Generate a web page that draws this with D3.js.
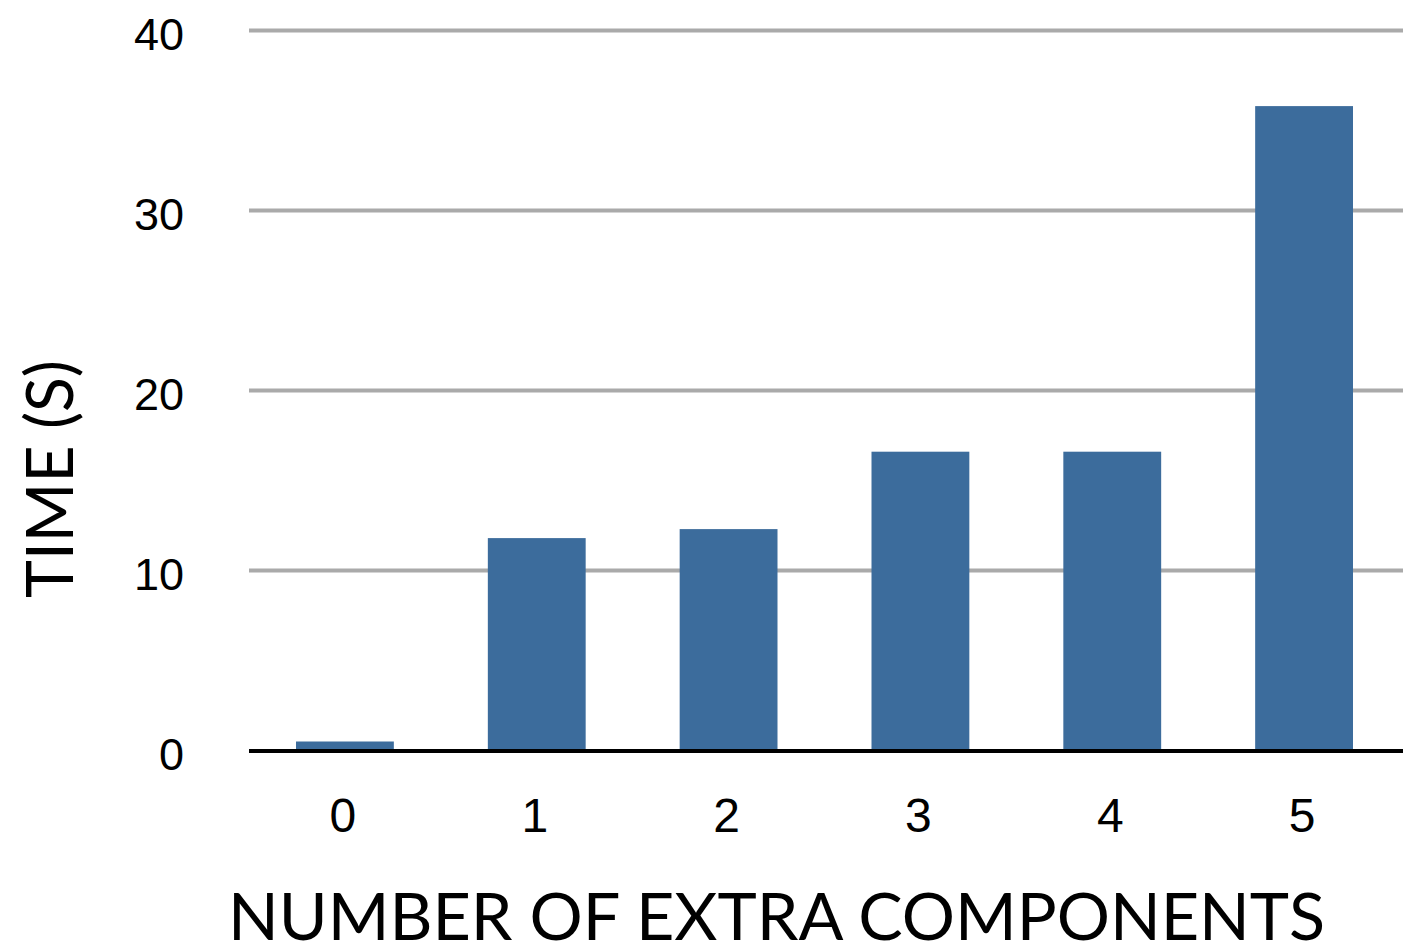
<!DOCTYPE html>
<html>
<head>
<meta charset="utf-8">
<script src="https://cdn.jsdelivr.net/npm/d3@7"></script>
<style>
  html, body { margin: 0; padding: 0; background: #fff; }
  svg { display: block; }
</style>
</head>
<body>
<svg id="chart" width="1403" height="943"></svg>
<script>
// Extra components added vs. time taken (seconds)
const categories = ["0", "1", "2", "3", "4", "5"];
const timeSeconds = [0.5, 11.8, 12.3, 16.6, 16.6, 35.8];
const yTicks = [0, 10, 20, 30, 40];

const svg = d3.select("#chart");
const W = 1403;

const x = d3.scaleBand()
  .domain(categories)
  .range([249, 1400])
  .paddingInner(0.49)
  .paddingOuter(0.245);

const y = d3.scaleLinear()
  .domain([0, 40])
  .range([750.5, 30.5]);

// horizontal gridlines
svg.append("g")
  .selectAll("line")
  .data(yTicks.filter(d => d !== 0))
  .join("line")
  .attr("x1", 249)
  .attr("x2", W)
  .attr("y1", d => y(d))
  .attr("y2", d => y(d))
  .attr("stroke", "#aaaaaa")
  .attr("stroke-width", 4);

// bars
svg.append("g")
  .selectAll("rect")
  .data(timeSeconds)
  .join("rect")
  .attr("x", (d, i) => x(categories[i]))
  .attr("width", x.bandwidth())
  .attr("y", d => y(d))
  .attr("height", d => y(0) - y(d))
  .attr("fill", "#3c6c9c");

// baseline
svg.append("line")
  .attr("x1", 249)
  .attr("x2", W)
  .attr("y1", y(0) + 0.5)
  .attr("y2", y(0) + 0.5)
  .attr("stroke", "#000")
  .attr("stroke-width", 4);

// y tick labels
svg.append("g")
  .selectAll("text")
  .data(yTicks)
  .join("text")
  .attr("x", 184)
  .attr("y", d => y(d) + 19)
  .attr("text-anchor", "end")
  .attr("font-family", "'Liberation Sans', Arial, sans-serif")
  .attr("font-size", 45)
  .attr("fill", "#000")
  .text(d => d);

// x tick labels
svg.append("g")
  .selectAll("text")
  .data(categories)
  .join("text")
  .attr("x", d => x(d) + x.bandwidth() / 2 - 2)
  .attr("y", 832)
  .attr("text-anchor", "middle")
  .attr("font-family", "'Liberation Sans', Arial, sans-serif")
  .attr("font-size", 48)
  .attr("fill", "#000")
  .text(d => d);

// axis titles
svg.append("text")
  .attr("x", 228)
  .attr("y", 940)
  .attr("font-family", "Lato, 'Open Sans', sans-serif")
  .attr("font-size", 66)
  .attr("textLength", 1097)
  .attr("lengthAdjust", "spacingAndGlyphs")
  .attr("fill", "#000")
  .text("NUMBER OF EXTRA COMPONENTS");

svg.append("text")
  .attr("transform", "translate(73,598) rotate(-90)")
  .attr("font-family", "Lato, 'Open Sans', sans-serif")
  .attr("font-size", 66)
  .attr("textLength", 238)
  .attr("lengthAdjust", "spacingAndGlyphs")
  .attr("fill", "#000")
  .text("TIME (S)");
</script>
</body>
</html>
